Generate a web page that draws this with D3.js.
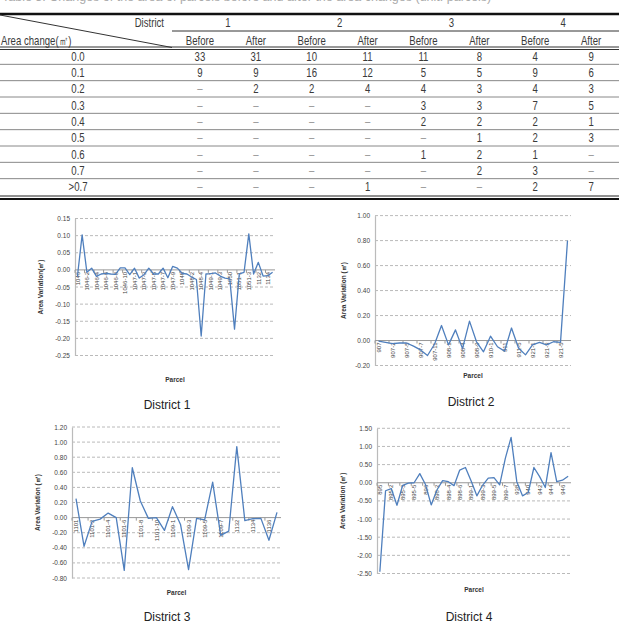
<!DOCTYPE html>
<html>
<head>
<meta charset="utf-8">
<script src="https://cdn.jsdelivr.net/npm/d3@7"></script>
<style>
  html, body { margin: 0; padding: 0; background: #fff; overflow: hidden; }
  svg { display: block; }
</style>
</head>
<body>
<div id="figure"></div>
<script>
// ---- table data ----
const areaChanges = ["0.0", "0.1", "0.2", "0.3", "0.4", "0.5", "0.6", "0.7", ">0.7"];
const districtNames = ["1", "2", "3", "4"];
const phases = ["Before", "After"];
const d1Before = [33, 9, null, null, null, null, null, null, null];
const d1After = [31, 9, 2, null, null, null, null, null, null];
const d2Before = [10, 16, 2, null, null, null, null, null, null];
const d2After = [11, 12, 4, null, null, null, null, null, 1];
const d3Before = [11, 5, 4, 3, 2, null, 1, null, null];
const d3After = [8, 5, 3, 3, 2, 1, 2, 2, null];
const d4Before = [4, 9, 4, 7, 2, 2, 1, 3, 2];
const d4After = [9, 6, 3, 5, 1, 3, null, null, 7];

// ---- chart data ----
const d1Parcels = ["1046", "1046-1", "1046-2", "1046-3", "1046-4", "1046-5", "1046-6", "1046-7", "1046-8", "1046-9",
  "1046-10", "1046-11", "1047-1", "1047-2", "1047-3", "1047-4", "1047-5", "1047-6", "1047-7", "1047-8",
  "1047-9", "1047-10", "1048", "1048-1", "1048-2", "1048-3", "1048-4", "1049", "1049-1", "1049-2",
  "1049-3", "1049-4", "1050", "1051", "1051-1", "1051-2", "1051-3", "1131", "1132", "1133", "1134", "1135"];
const d1Variation = [-0.02, 0.102, -0.007, 0.005, -0.019, -0.012, -0.01, -0.012, -0.013, 0.006,
  0.006, -0.014, 0.005, -0.024, -0.014, 0.005, -0.012, -0.012, 0.005, -0.023,
  0.01, 0.005, -0.01, -0.012, -0.021, -0.028, -0.193, -0.012, -0.011, -0.009,
  -0.018, -0.024, -0.026, -0.173, -0.012, -0.007, 0.105, -0.012, 0.022, -0.018, -0.017, -0.007];
const d1Ticks = [-0.25, -0.20, -0.15, -0.10, -0.05, 0.00, 0.05, 0.10, 0.15];

const d2Parcels = ["907", "907-1", "907-2", "907-3", "907-5", "907-6", "907-7", "907-8", "907-11", "907-12",
  "908-1", "908-3", "908-4", "908-6", "908-9", "909", "910-1", "910-3", "911", "911-3",
  "911-5", "911-7", "921-1", "921-2", "921-3", "921-4", "921-5", "921-6"];
const d2Variation = [-0.005, -0.015, -0.025, -0.02, -0.02, -0.045, -0.075, -0.12, -0.03, 0.12,
  -0.035, 0.085, -0.065, 0.155, -0.01, -0.09, 0.035, -0.05, -0.085, 0.10,
  -0.06, -0.115, -0.035, -0.015, -0.035, -0.01, -0.015, 0.80];
const d2Ticks = [-0.20, 0.00, 0.20, 0.40, 0.60, 0.80, 1.00];

const d3Parcels = ["1101", "1101-1", "1101-2", "1101-3", "1101-4", "1101-5", "1101-6", "1101-7", "1101-8", "1101-9",
  "1101-10", "1109", "1109-1", "1109-2", "1109-3", "1109-4", "1109-5", "1109-6", "1109-7", "1131",
  "1132", "1133", "1134", "1135", "1136", "1137"];
const d3Variation = [0.25, -0.38, -0.05, -0.02, 0.06, 0.00, -0.70, 0.66, 0.22, -0.01,
  0.00, -0.17, 0.145, -0.09, -0.69, -0.01, -0.03, 0.47, -0.235, -0.18,
  0.94, -0.04, -0.015, -0.01, -0.30, 0.07];
const d3Ticks = [-0.80, -0.60, -0.40, -0.20, 0.00, 0.20, 0.40, 0.60, 0.80, 1.00, 1.20];

const d4Parcels = ["895", "895-1", "895-2", "895-2-1", "895-3", "895-4", "895-5", "895-6", "896", "898-1",
  "898-2", "898-3", "898-4", "898-5", "898-6", "899", "899-1", "899-2", "899-3", "899-4",
  "899-5", "899-6", "899-7", "937", "938", "939", "940", "941", "942", "943",
  "944", "945", "946", "947"];
const d4Variation = [-2.45, -0.22, -0.16, -0.62, -0.07, -0.01, 0.00, 0.25, -0.05, -0.61,
  -0.20, 0.06, 0.03, -0.08, 0.35, 0.42, 0.05, -0.36, -0.07, 0.13,
  0.14, -0.06, 0.68, 1.25, 0.03, -0.36, -0.27, 0.42, 0.17, -0.13,
  0.83, 0.03, 0.07, 0.18];
const d4Ticks = [-2.50, -2.00, -1.50, -1.00, -0.50, 0.00, 0.50, 1.00, 1.50];

const tableFont = "'Liberation Sans', Arial, sans-serif";
const chartFont = "'Liberation Sans', Arial, sans-serif";

const svg = d3.select("#figure").append("svg")
    .attr("width", 619)
    .attr("height", 637);

// narrow text: the table uses a condensed face, so squeeze it horizontally
function narrowText(sel, x, y, anchor) {
    return sel.append("text")
        .attr("transform", `translate(${x},${y}) scale(0.8,1)`)
        .attr("text-anchor", anchor || "middle");
}

// caption line at the very top, mostly cut by the page edge
svg.append("text")
    .attr("x", 2)
    .attr("y", 0.5)
    .style("font-family", tableFont)
    .style("font-size", "12.5px")
    .style("fill", "#aaa")
    .text("Table 3. Changes of the area of parcels before and after the area changes (unit: parcels)");

function renderTable() {
    const g = svg.append("g")
        .style("font-family", tableFont)
        .style("font-size", "12px")
        .style("fill", "#3a3a3a");

    const columns = [d1Before, d1After, d2Before, d2After, d3Before, d3After, d4Before, d4After];
    const colKeys = d3.range(columns.length);

    const x = d3.scaleBand().domain(colKeys).range([172, 619]);
    const y = d3.scaleBand().domain(areaChanges).range([48, 195]);

    // rules
    g.append("line").attr("x1", 0).attr("x2", 619).attr("y1", 14).attr("y2", 14)
        .attr("stroke", "#111").attr("stroke-width", 2.5);
    g.append("line").attr("x1", 0).attr("y1", 15).attr("x2", 172).attr("y2", 47.5)
        .attr("stroke", "#333").attr("stroke-width", 1);
    g.append("line").attr("x1", 172).attr("x2", 619).attr("y1", 31).attr("y2", 31)
        .attr("stroke", "#333").attr("stroke-width", 1);
    [47, 49.5].forEach(yy => {
        g.append("line").attr("x1", 0).attr("x2", 619).attr("y1", yy).attr("y2", yy)
            .attr("stroke", "#333").attr("stroke-width", 1);
    });
    areaChanges.slice(1).forEach(a => {
        g.append("line").attr("x1", 0).attr("x2", 619)
            .attr("y1", y(a)).attr("y2", y(a))
            .attr("stroke", "#888").attr("stroke-width", 1);
    });
    g.append("line").attr("x1", 0).attr("x2", 619).attr("y1", 196).attr("y2", 196)
        .attr("stroke", "#222").attr("stroke-width", 1);
    g.append("line").attr("x1", 0).attr("x2", 619).attr("y1", 199).attr("y2", 199)
        .attr("stroke", "#111").attr("stroke-width", 2);

    // header
    narrowText(g, 164, 26.5, "end").text("District");
    narrowText(g, 1, 44.5, "start").text("Area change(㎡)");

    districtNames.forEach((d, i) => {
        narrowText(g, x(i * 2) + x.bandwidth(), 26.5).text(d);
    });

    colKeys.forEach(c => {
        narrowText(g, x(c) + x.bandwidth() / 2, 44.5).text(phases[c % 2]);
    });

    // body
    areaChanges.forEach(a => {
        narrowText(g, 78, y(a) + y.bandwidth() / 2 + 4.5).text(a);
    });

    columns.forEach((col, ci) => {
        col.forEach((v, ri) => {
            narrowText(g, x(ci) + x.bandwidth() / 2, y(areaChanges[ri]) + y.bandwidth() / 2 + 4.5)
                .style("fill", v == null ? "#999" : "#3a3a3a")
                .text(v == null ? "–" : v);
        });
    });
}

function renderLineChart(opt) {
    const g = svg.append("g")
        .style("font-family", chartFont);

    const x = d3.scaleBand()
        .domain(opt.parcels)
        .range([opt.x0, opt.x1]);

    const y = d3.scaleLinear()
        .domain([opt.ticks[0], opt.ticks[opt.ticks.length - 1]])
        .range([opt.yBottom, opt.yTop]);

    // gridlines
    g.selectAll(".grid")
        .data(opt.ticks.filter(t => t !== 0))
        .enter()
        .append("line")
        .attr("x1", opt.x0)
        .attr("x2", opt.x1)
        .attr("y1", d => y(d))
        .attr("y2", d => y(d))
        .attr("stroke", "#a8a8a8")
        .attr("stroke-width", 0.8)
        .attr("stroke-dasharray", "3,2");

    // vertical axis
    const yAxis = g.append("g")
        .attr("transform", `translate(${opt.x0},0)`)
        .call(d3.axisLeft(y).tickValues(opt.ticks).tickSize(0).tickPadding(5)
            .tickFormat(d => d.toFixed(2)));
    yAxis.select(".domain").attr("stroke", "#bbb").attr("stroke-width", 1.2);
    yAxis.selectAll("text")
        .style("font-family", chartFont)
        .style("font-size", "6.5px")
        .style("fill", "#444");

    // category axis at zero
    const y0 = y(0);
    g.append("line")
        .attr("x1", opt.x0).attr("x2", opt.x1)
        .attr("y1", y0).attr("y2", y0)
        .attr("stroke", "#999").attr("stroke-width", 1);

    const shown = opt.parcels.filter((p, i) => i % 2 === 0);

    g.selectAll(".tick-mark")
        .data(shown)
        .enter()
        .append("line")
        .attr("x1", d => x(d))
        .attr("x2", d => x(d))
        .attr("y1", y0)
        .attr("y2", y0 + 3)
        .attr("stroke", "#999");

    g.selectAll(".xlabel")
        .data(shown)
        .enter()
        .append("text")
        .attr("transform", d => `translate(${x(d) + x.bandwidth() / 2 + 2.2},${y0 + 2}) rotate(-90)`)
        .attr("text-anchor", "end")
        .style("font-size", "6px")
        .style("fill", "#444")
        .text(d => d);

    // line
    const line = d3.line()
        .x((d, i) => x(opt.parcels[i]) + x.bandwidth() / 2)
        .y(d => y(d));

    g.append("path")
        .datum(opt.values)
        .attr("d", line)
        .attr("fill", "none")
        .attr("stroke", "#4f7fbd")
        .attr("stroke-width", 1.3)
        .attr("stroke-linejoin", "round");

    // axis titles
    g.append("text")
        .attr("transform", `translate(${opt.yTitleX},${(opt.yTop + opt.yBottom) / 2}) rotate(-90)`)
        .attr("text-anchor", "middle")
        .style("font-size", "6.5px")
        .style("font-weight", "bold")
        .style("fill", "#333")
        .text(opt.yTitle);

    g.append("text")
        .attr("x", (opt.x0 + opt.x1) / 2)
        .attr("y", opt.xTitleY)
        .attr("text-anchor", "middle")
        .style("font-size", "6.5px")
        .style("font-weight", "bold")
        .style("fill", "#333")
        .text("Parcel");

    // caption
    g.append("text")
        .attr("x", opt.captionX)
        .attr("y", opt.captionY)
        .attr("text-anchor", "middle")
        .style("font-size", "12px")
        .style("fill", "#222")
        .text(opt.caption);
}

renderTable();

renderLineChart({
    parcels: d1Parcels, values: d1Variation, ticks: d1Ticks,
    x0: 75, x1: 275, yTop: 218.5, yBottom: 355.5,
    yTitle: "Area Variation(㎡)", yTitleX: 43, xTitleY: 382,
    caption: "District 1", captionX: 167, captionY: 409
});

renderLineChart({
    parcels: d2Parcels, values: d2Variation, ticks: d2Ticks,
    x0: 375, x1: 571, yTop: 215.6, yBottom: 365.5,
    yTitle: "Area Variation (㎡)", yTitleX: 346, xTitleY: 378,
    caption: "District 2", captionX: 471, captionY: 406
});

renderLineChart({
    parcels: d3Parcels, values: d3Variation, ticks: d3Ticks,
    x0: 72, x1: 281, yTop: 427, yBottom: 578,
    yTitle: "Area Variation (㎡)", yTitleX: 40, xTitleY: 595,
    caption: "District 3", captionX: 167, captionY: 621
});

renderLineChart({
    parcels: d4Parcels, values: d4Variation, ticks: d4Ticks,
    x0: 377, x1: 571, yTop: 428.3, yBottom: 573.5,
    yTitle: "Area Variation (㎡)", yTitleX: 345, xTitleY: 592,
    caption: "District 4", captionX: 469, captionY: 621
});
</script>
</body>
</html>
